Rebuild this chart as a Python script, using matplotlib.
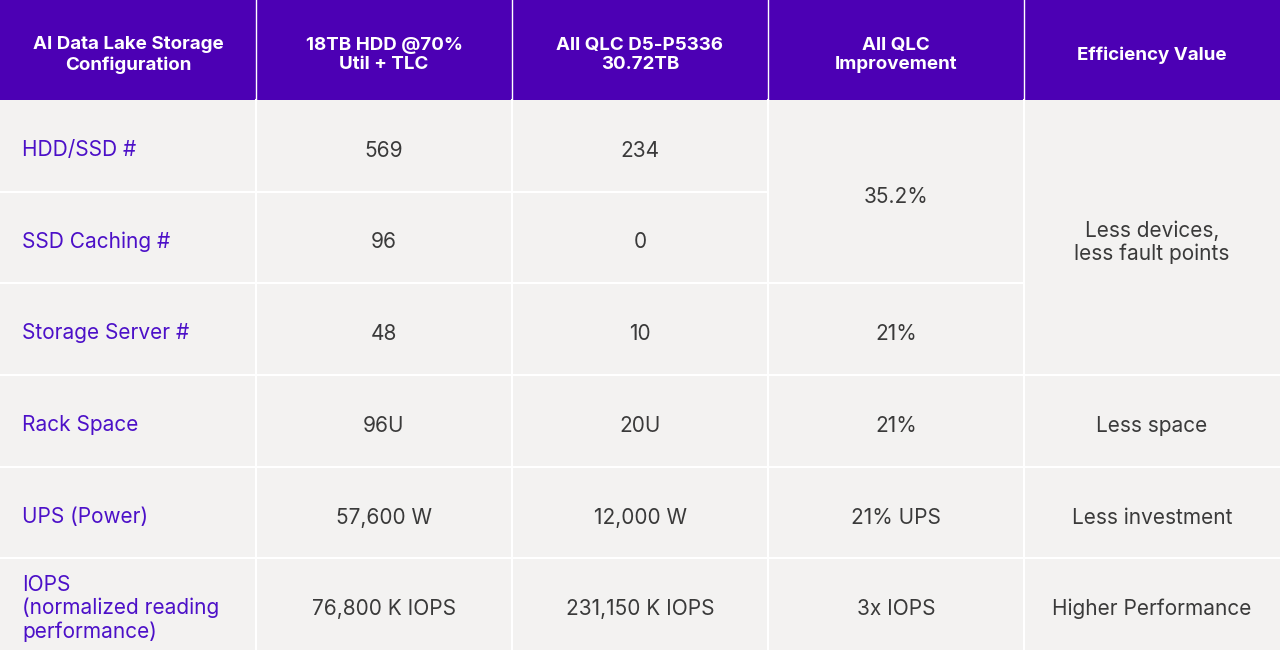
import matplotlib.pyplot as plt
from matplotlib.patches import Rectangle

plt.rcParams['font.family'] = ['Inter', 'DejaVu Sans']

headers = ['AI Data Lake Storage\nConfiguration', '18TB HDD @70%\nUtil + TLC',
           'All QLC D5-P5336\n30.72TB', 'All QLC\nImprovement', 'Efficiency Value']
row_labels = ['HDD/SSD #', 'SSD Caching #', 'Storage Server #', 'Rack Space',
              'UPS (Power)', 'IOPS\n(normalized reading\nperformance)']
hdd_vals = ['569', '96', '48', '96U', '57,600 W', '76,800 K IOPS']
qlc_vals = ['234', '0', '10', '20U', '12,000 W', '231,150 K IOPS']
# (text, first row, number of rows spanned)
improvement = [('35.2%', 0, 2), ('21%', 2, 1), ('21%', 3, 1), ('21% UPS', 4, 1), ('3x IOPS', 5, 1)]
efficiency = [('Less devices,\nless fault points', 0, 3), ('Less space', 3, 1),
              ('Less investment', 4, 1), ('Higher Performance', 5, 1)]

W, H = 1280, 650
head_h = 100
ncol = len(headers)
nrow = len(row_labels)
col_w = W / ncol
row_h = (H - head_h) / nrow

purple = '#4c00b4'
body_bg = '#f3f2f1'
label_c = '#4c10c8'
text_c = '#3a3a3a'

fig = plt.figure(figsize=(12.8, 6.5), dpi=100)
ax = fig.add_axes([0, 0, 1, 1])
ax.set_xlim(0, W)
ax.set_ylim(H, 0)
ax.axis('off')

# header
ax.add_patch(Rectangle((0, 0), W, head_h, color=purple, lw=0))
for j, h in enumerate(headers):
    ax.text(col_w * j + col_w / 2, head_h / 2 + 5, h, ha='center', va='center',
            color='white', fontsize=13.5, fontweight='bold', linespacing=1.22)
    if j > 0:
        ax.plot([col_w * j, col_w * j], [0, head_h], color='white', lw=1)

# body
ax.add_patch(Rectangle((0, head_h), W, H - head_h, color=body_bg, lw=0))


def cell_y(r0, n):
    return head_h + row_h * r0, row_h * n


for i, lab in enumerate(row_labels):
    y0, hh = cell_y(i, 1)
    ax.text(22, y0 + hh / 2 + 4, lab, ha='left', va='center', color=label_c,
            fontsize=15, linespacing=1.18)
    for j, vals in [(1, hdd_vals), (2, qlc_vals)]:
        ax.text(col_w * j + col_w / 2, y0 + hh / 2 + 5, vals[i], ha='center',
                va='center', color=text_c, fontsize=15)
    # horizontal lines for first three columns
    if i > 0:
        ax.plot([0, col_w * 3], [y0, y0], color='white', lw=1.5)

for col, items in [(3, improvement), (4, efficiency)]:
    for txt, r0, n in items:
        y0, hh = cell_y(r0, n)
        ax.text(col_w * col + col_w / 2, y0 + hh / 2 + 5, txt, ha='center',
                va='center', color=text_c, fontsize=15, linespacing=1.18)
        if r0 > 0:
            ax.plot([col_w * col, col_w * (col + 1)], [y0, y0], color='white', lw=1.5)

for j in range(1, ncol):
    ax.plot([col_w * j, col_w * j], [head_h, H], color='white', lw=1.5)

fig.savefig('out.png', dpi=100)
